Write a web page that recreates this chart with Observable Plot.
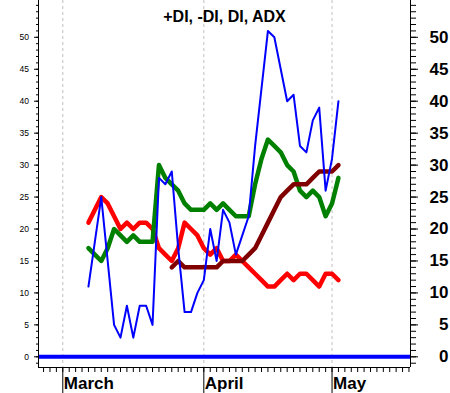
<!DOCTYPE html>
<html><head><meta charset="utf-8">
<script src="https://cdn.jsdelivr.net/npm/d3@7"></script>
<script src="https://cdn.jsdelivr.net/npm/@observablehq/plot@0.6"></script>
<style>html,body{margin:0;padding:0;background:#fff}svg{display:block}</style>
</head><body><div id="chart"></div>
<script>
// ---- data (trading-day index; 0 = first trading day of March) ----
const title = "+DI, -DI, DI, ADX";
const months = ["March", "April", "May"];
const monthDays = [0, 22, 42];
const days = [4,5,6,7,8,9,10,11,12,13,14,15,16,17,18,19,20,21,22,23,24,25,26,27,28,29,30,31,32,33,34,35,36,37,38,39,40,41,42,43];
const diValues   = [11,18,25,15,5,3,8,3,8,8,5,28,27,29,17,7,7,10,12,20,15,23,21,16,19,22,33,42,51,50,45,40,41,33,32,37,39,26,31,40];
const minusDI    = [21,23,25,24,22,20,21,20,21,21,20,17,16,15,17,21,20,19,17,16,17,15,15,16,15,14,13,12,11,11,12,13,12,13,13,12,11,13,13,12];
const plusDI     = [17,16,15,17,20,19,18,19,18,18,18,30,28,27,26,24,23,23,23,24,23,24,23,22,22,22,27,31,34,33,32,30,29,26,25,26,25,22,24,28];
const adxDays    = [17,18,19,20,21,22,23,24,25,26,27,28,29,30,31,32,33,34,35,36,37,38,39,40,41,42,43];
const adxValues  = [14,15,14,14,14,14,14,14,15,15,15,15,16,17,19,21,23,25,26,27,27,27,28,29,29,29,30];
const yMajor = [0,5,10,15,20,25,30,35,40,45,50];
const yMinor = d3.range(-1, 56);
const xMinor = d3.range(-3, 55);

const rows = (xs, vs) => xs.map((t, i) => ({t, v: vs[i]}));
const xDomain = [-3.79, 54.24];
const yDomain = [-1.67, 55.76];
const font = "'Liberation Sans', Arial, Helvetica, sans-serif";
const blank = () => "";

const chart = Plot.plot({
  width: 450, height: 393,
  marginLeft: 38, marginRight: 40, marginTop: 0, marginBottom: 26,
  style: {fontFamily: font, background: "#fff", color: "#000", overflow: "visible"},
  x: {domain: xDomain},
  y: {domain: yDomain},
  marks: [
    Plot.ruleX(monthDays, {stroke: "#c0c0c0", strokeWidth: 1, strokeDasharray: "3,3"}),
    Plot.ruleY([0], {stroke: "#0000ff", strokeWidth: 4}),
    Plot.line(rows(days, minusDI), {x: "t", y: "v", stroke: "#ff0000", strokeWidth: 4.5}),
    Plot.line(rows(days, plusDI), {x: "t", y: "v", stroke: "#008000", strokeWidth: 4.5}),
    Plot.line(rows(adxDays, adxValues), {x: "t", y: "v", stroke: "#800000", strokeWidth: 4.5}),
    Plot.line(rows(days, diValues), {x: "t", y: "v", stroke: "#0000ff", strokeWidth: 2}),
    // axis lines
    Plot.ruleX([xDomain[0], xDomain[1]], {stroke: "#000", strokeWidth: 1}),
    Plot.ruleY([yDomain[0]], {stroke: "#000", strokeWidth: 1}),
    // left axis
    Plot.axisY({anchor: "left", ticks: yMinor, tickSize: 2, tickFormat: blank, label: null}),
    Plot.axisY({anchor: "left", ticks: yMajor, tickSize: 4, tickPadding: 5.5, fontSize: 8.5, label: null}),
    // right axis
    Plot.axisY({anchor: "right", ticks: yMinor, tickSize: 5, tickFormat: blank, label: null}),
    Plot.axisY({anchor: "right", ticks: yMajor, tickSize: 7, tickPadding: 31, textAnchor: "end",
      fontSize: 17, fontWeight: "bold", letterSpacing: 0.5, label: null}),
    // bottom axis
    Plot.axisX({ticks: xMinor, tickSize: 5, tickFormat: blank, label: null}),
    Plot.axisX({ticks: monthDays, tickSize: 26, tickFormat: blank, label: null}),
    Plot.axisX({ticks: monthDays, tickSize: 0, tickPadding: 9.5, tickFormat: (d, i) => months[i],
      textAnchor: "start", dx: 1, fontSize: 17, fontWeight: "bold", letterSpacing: 1.3, label: null}),
    // title
    Plot.text([title], {frameAnchor: "top", dy: 10, fontSize: 16, fontWeight: "bold", letterSpacing: 1.2, fill: "#000"})
  ]
});
document.getElementById("chart").appendChild(chart);
</script>
</body></html>
